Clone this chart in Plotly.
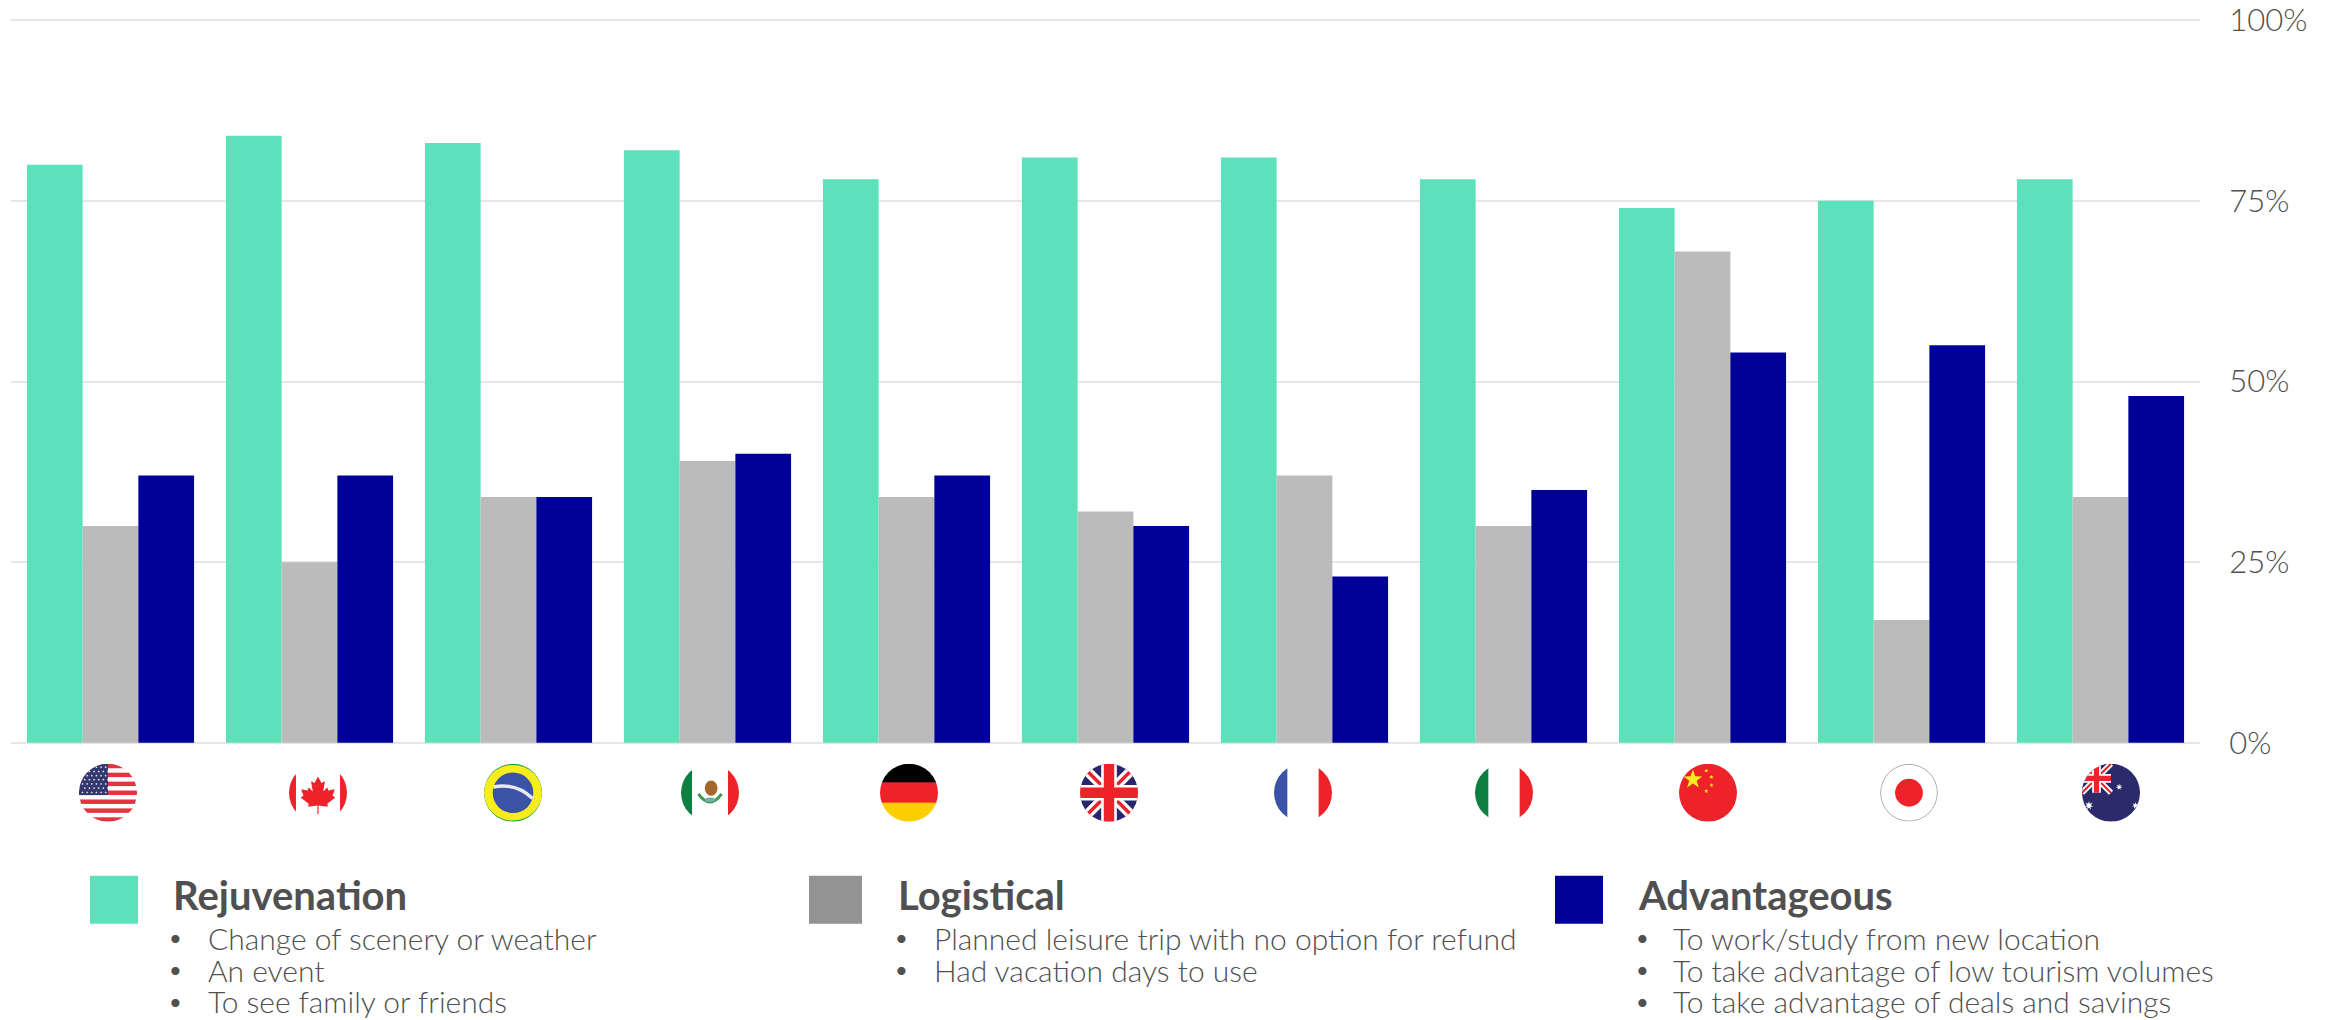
import base64, math
import plotly.graph_objects as go

countries = ["United States", "Canada", "Brazil", "Mexico", "Germany", "United Kingdom",
             "France", "Italy", "China", "Japan", "Australia"]
rejuvenation = [80, 84, 83, 82, 78, 81, 81, 78, 74, 75, 78]
logistical = [30, 25, 34, 39, 34, 32, 37, 30, 68, 17, 34]
advantageous = [37, 37, 34, 40, 37, 30, 23, 35, 54, 55, 48]
tick_vals = [0, 25, 50, 75, 100]
tick_text = ["0%", "25%", "50%", "75%", "100%"]

legend_titles = ["Rejuvenation", "Logistical", "Advantageous"]
legend_items = [
    ["Change of scenery or weather", "An event", "To see family or friends"],
    ["Planned leisure trip with no option for refund", "Had vacation days to use"],
    ["To work/study from new location", "To take advantage of low tourism volumes",
     "To take advantage of deals and savings"],
]

GREEN, GREY, BLUE, SWATCH_GREY = "#5CE1BA", "#BBBBBB", "#000099", "#939393"
TEXT = "#505050"
FONT = "Lato"
W, H = 2336, 1020
UNIT = 7.225  # pixels per percentage point
PAD = 1       # axis range padding, so the 0% and 100% gridlines are kept
L, R, T, B = 11, 136, 20.5 - PAD * UNIT, 277 - PAD * UNIT
PW, PH = W - L - R, H - T - B


def px(x):
    return (x - L) / PW


def py(y):
    return 1 - (y - T) / PH


def star(cx, cy, r, fill, n=5, rot=-90, inner=0.4):
    pts = []
    for i in range(2 * n):
        rr = r if i % 2 == 0 else r * inner
        a = math.radians(rot + i * 180 / n)
        pts.append(f"{cx + rr * math.cos(a):.2f},{cy + rr * math.sin(a):.2f}")
    return f'<polygon points="{" ".join(pts)}" fill="{fill}"/>'


def union(w, h):
    return (f'<rect width="{w}" height="{h}" fill="#27286B"/>'
            f'<path d="M0 0L{w} {h}M{w} 0L0 {h}" stroke="#fff" stroke-width="{w*0.2}"/>'
            f'<path d="M0 0L{w} {h}M{w} 0L0 {h}" stroke="#EE2229" stroke-width="{w*0.07}"/>'
            f'<path d="M{w/2} 0V{h}M0 {h/2}H{w}" stroke="#fff" stroke-width="{w*0.3}"/>'
            f'<path d="M{w/2} 0V{h}M0 {h/2}H{w}" stroke="#EE2229" stroke-width="{w*0.18}"/>')


def usa():
    s = '<rect width="100" height="100" fill="#fff"/>'
    for i in range(0, 13, 2):
        s += f'<rect y="{i*100/13:.2f}" width="100" height="{100/13:.2f}" fill="#E5343F"/>'
    s += '<rect width="50" height="54" fill="#33376F"/>'
    for r in range(7):
        for c in range(6):
            s += star(6 + c * 8 + (r % 2) * 4, 6 + r * 7.2, 2.3, "#fff")
    return s


def canada():
    leaf = [(50, 22), (56, 33), (62, 30), (59, 48), (66, 41), (68, 46), (79, 44), (75, 55),
            (80, 58), (66, 69), (67, 74), (51, 72), (51, 87), (49, 87), (49, 72), (33, 74),
            (34, 69), (20, 58), (25, 55), (21, 44), (32, 46), (34, 41), (41, 48), (38, 30), (44, 33)]
    pts = " ".join(f"{x},{y}" for x, y in leaf)
    return ('<rect width="100" height="100" fill="#fff"/>'
            '<rect width="12" height="100" fill="#EE2229"/><rect x="88" width="12" height="100" fill="#EE2229"/>'
            f'<polygon points="{pts}" fill="#EE2229"/>')


def brazil():
    return ('<rect width="100" height="100" fill="#1E9E48"/>'
            '<ellipse cx="50" cy="50" rx="50" ry="48" fill="#F7EC1E"/>'
            '<circle cx="50" cy="50" r="35" fill="#3A53A4"/>'
            '<path d="M16 40Q55 32 84 60" stroke="#E8E8F0" stroke-width="6" fill="none"/>')


def mexico():
    return ('<rect width="100" height="100" fill="#fff"/>'
            '<rect width="19" height="100" fill="#0E7F40"/><rect x="81" width="19" height="100" fill="#EE2229"/>'
            '<ellipse cx="52" cy="42" rx="11" ry="13" fill="#A6672B"/>'
            '<path d="M30 52Q50 80 70 52" stroke="#3D9A50" stroke-width="5" fill="none"/>'
            '<ellipse cx="50" cy="62" rx="9" ry="4" fill="#6FB1A0"/>')


def germany():
    return ('<rect width="100" height="33" fill="#000"/><rect y="32" width="100" height="36" fill="#EE2229"/>'
            '<rect y="67" width="100" height="33" fill="#FFCE00"/>')


def uk():
    return ('<rect width="100" height="100" fill="#27286B"/>'
            '<path d="M0 0L100 100M100 0L0 100" stroke="#fff" stroke-width="17"/>'
            '<path d="M0 0L100 100M100 0L0 100" stroke="#EE2229" stroke-width="6"/>'
            '<path d="M50 0V100M0 50H100" stroke="#fff" stroke-width="27"/>'
            '<path d="M50 0V100M0 50H100" stroke="#EE2229" stroke-width="18"/>')


def tricolour(left):
    return (f'<rect width="100" height="100" fill="#fff"/><rect width="23" height="100" fill="{left}"/>'
            '<rect x="77" width="23" height="100" fill="#EE2229"/>')


def china():
    s = '<rect width="100" height="100" fill="#EE2229"/>' + star(24, 27, 17, "#F7EC1E")
    for x, y in [(47, 12), (56, 23), (56, 37), (47, 47)]:
        s += star(x, y, 4, "#F7EC1E")
    return s


def japan():
    return ('<circle cx="50" cy="50" r="49" fill="#fff" stroke="#999" stroke-width="1.5"/>'
            '<circle cx="50" cy="50" r="24" fill="#EE2229"/>')


def australia():
    s = '<rect width="100" height="100" fill="#2B2A6B"/>' + union(50, 50)
    s += star(64, 40, 6, "#fff", n=7) + star(12, 72, 8, "#fff", n=7) + star(92, 72, 6, "#fff", n=7)
    return s


flags = [(108, usa()), (318, canada()), (513, brazil()), (710, mexico()), (909, germany()),
         (1109, uk()), (1303, tricolour("#3A53A4")), (1504, tricolour("#0E7F40")),
         (1708, china()), (1909, japan()), (2111, australia())]


def svg_uri(body):
    svg = ('<svg xmlns="http://www.w3.org/2000/svg" width="232" height="232" viewBox="0 0 100 100">'
           '<defs><clipPath id="c"><circle cx="50" cy="50" r="50"/></clipPath></defs>'
           f'<g clip-path="url(#c)">{body}</g></svg>')
    return "data:image/svg+xml;base64," + base64.b64encode(svg.encode()).decode()


fig = go.Figure()
for name, vals, col in [(legend_titles[0], rejuvenation, GREEN),
                        (legend_titles[1], logistical, GREY),
                        (legend_titles[2], advantageous, BLUE)]:
    fig.add_bar(x=countries, y=vals, name=name, marker=dict(color=col, line=dict(width=0)))

images = [dict(source=svg_uri(body), xref="paper", yref="paper", x=px(cx), y=py(793),
               sizex=58 / PW, sizey=58 / PH, xanchor="center", yanchor="middle",
               sizing="stretch", layer="above") for cx, body in flags]

shapes, annos = [], []
swatches = [(90, 138, GREEN), (809, 862, SWATCH_GREY), (1555, 1603, BLUE)]
text_x = [(170.5, 176, 206), (895.5, 901, 932), (1635.5, 1642, 1671)]
rows_y = [938, 970, 1001.5]
for (x0, x1, col), (tx, bx, ix), title, items in zip(swatches, text_x, legend_titles, legend_items):
    shapes.append(dict(type="rect", xref="paper", yref="paper", x0=px(x0), x1=px(x1),
                       y0=py(876), y1=py(924), fillcolor=col, line=dict(width=0)))
    annos.append(dict(text=f"<b>{title}</b>", xref="paper", yref="paper", x=px(tx), y=py(895),
                      xanchor="left", yanchor="middle", showarrow=False,
                      font=dict(family=FONT, size=40, color=TEXT)))
    for yy, item in zip(rows_y, items):
        annos.append(dict(text="•", xref="paper", yref="paper", x=px(bx), y=py(yy),
                          xanchor="center", yanchor="middle", showarrow=False,
                          font=dict(family=FONT, size=22, color=TEXT)))
        annos.append(dict(text=item, xref="paper", yref="paper", x=px(ix), y=py(yy),
                          xanchor="left", yanchor="middle", showarrow=False,
                          font=dict(family=FONT, size=30, color=TEXT, weight=300)))

fig.update_layout(
    width=W, height=H, autosize=False, barmode="group", bargap=0.16, bargroupgap=0,
    margin=dict(l=L, r=R, t=T, b=B, pad=0, autoexpand=False), showlegend=False,
    plot_bgcolor="#fff", paper_bgcolor="#fff",
    images=images, shapes=shapes, annotations=annos,
    xaxis=dict(type="category", showticklabels=False, showgrid=False, zeroline=False, ticks="", showline=False),
    yaxis=dict(side="right", range=[-PAD, 100 + PAD], tickvals=tick_vals, ticktext=tick_text,
               gridcolor="#E6E6E6", gridwidth=2, zeroline=False, showline=False,
               ticks="outside", ticklen=22, tickcolor="rgba(0,0,0,0)",
               tickfont=dict(family=FONT, size=31, color=TEXT, weight=300)),
)
fig.write_html("out.html", config=dict(displayModeBar=False),
               post_script="document.body.style.margin='0';document.documentElement.style.overflow='hidden';")
